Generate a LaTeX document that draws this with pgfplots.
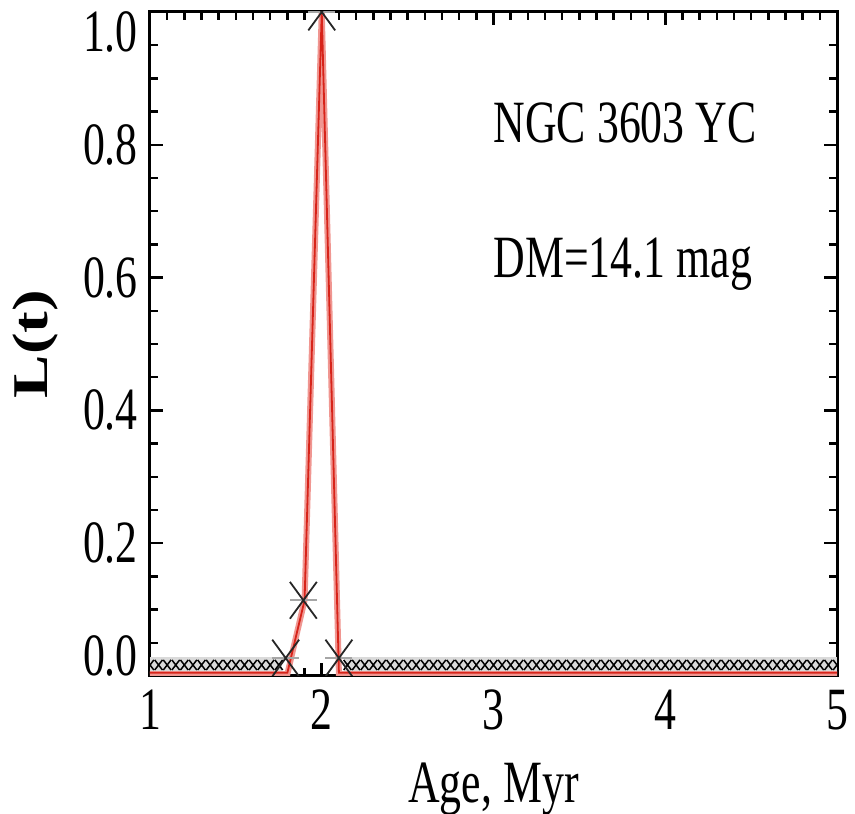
\documentclass[border=0pt]{standalone}
\usepackage{pgfplots}
\pgfplotsset{compat=1.18}
\usepackage{fontspec}
\setmainfont{Liberation Serif}[FakeStretch=0.73]
\newfontfamily\ylabfont{Liberation Serif}[FakeStretch=1.3]
\definecolor{darkred}{RGB}{215,35,25}
\definecolor{pinkred}{RGB}{240,150,145}
\definecolor{bandgray}{RGB}{218,218,218}
\newcommand\bigf{\fontsize{60pt}{60pt}\selectfont}
\begin{document}
\bigf
\begin{tikzpicture}
\begin{axis}[
  scale only axis, width=687pt, height=664pt,
  xmin=1, xmax=5, ymin=0, ymax=1,
  xtick={1,2,3,4,5}, xticklabels={1,2,3,4,5},
  ytick={0,0.2,0.4,0.6,0.8,1.0},
  yticklabels={\raisebox{21pt}[40pt][0pt]{0.0},0.2,0.4,0.6,0.8,\raisebox{-20pt}[40pt][0pt]{1.0}},
  minor x tick num=9, minor y tick num=3,
  tick align=inside, major tick length=13pt, minor tick length=8pt,
  every tick/.style={black, line width=2.5pt},
  axis line style={line width=3pt},
  tick label style={font=\bigf},
  xticklabel style={anchor=north, inner sep=0pt, yshift=-14pt},
  yticklabel style={anchor=east, inner sep=0pt, xshift=-12pt},
  xlabel={Age, Myr},
  ylabel={\ylabfont\bfseries L(t)},
  xlabel style={font=\bigf, at={(axis description cs:0.5,-0.19)}, anchor=base, inner sep=0pt},
  ylabel style={font=\fontsize{50pt}{50pt}\selectfont, at={(axis description cs:-0.166,0.5)}, anchor=center, rotate=0, inner sep=0pt},
  clip marker paths=true,
]
% grey band behind small markers
\addplot[fill=bandgray, draw=none] coordinates {(1,0.008)(1.77,0.008)(1.77,0.029)(1,0.029)} -- cycle;
\addplot[fill=bandgray, draw=none] coordinates {(2.13,0.008)(5,0.008)(5,0.029)(2.13,0.029)} -- cycle;
% small x markers
\addplot[only marks, mark=x, mark size=5.5pt, mark options={line width=1.5pt, yscale=1.3}, black] coordinates {
(1.00,0.0166)(1.05,0.0166)(1.10,0.0166)(1.15,0.0166)(1.20,0.0166)(1.25,0.0166)(1.30,0.0166)(1.35,0.0166)
(1.40,0.0166)(1.45,0.0166)(1.50,0.0166)(1.55,0.0166)(1.60,0.0166)(1.65,0.0166)(1.70,0.0166)(1.75,0.0166)
(2.15,0.0166)(2.20,0.0166)(2.25,0.0166)(2.30,0.0166)(2.35,0.0166)(2.40,0.0166)(2.45,0.0166)(2.50,0.0166)
(2.55,0.0166)(2.60,0.0166)(2.65,0.0166)(2.70,0.0166)(2.75,0.0166)(2.80,0.0166)(2.85,0.0166)(2.90,0.0166)
(2.95,0.0166)(3.00,0.0166)(3.05,0.0166)(3.10,0.0166)(3.15,0.0166)(3.20,0.0166)(3.25,0.0166)(3.30,0.0166)
(3.35,0.0166)(3.40,0.0166)(3.45,0.0166)(3.50,0.0166)(3.55,0.0166)(3.60,0.0166)(3.65,0.0166)(3.70,0.0166)
(3.75,0.0166)(3.80,0.0166)(3.85,0.0166)(3.90,0.0166)(3.95,0.0166)(4.00,0.0166)(4.05,0.0166)(4.10,0.0166)
(4.15,0.0166)(4.20,0.0166)(4.25,0.0166)(4.30,0.0166)(4.35,0.0166)(4.40,0.0166)(4.45,0.0166)(4.50,0.0166)
(4.55,0.0166)(4.60,0.0166)(4.65,0.0166)(4.70,0.0166)(4.75,0.0166)(4.80,0.0166)(4.85,0.0166)(4.90,0.0166)
(4.95,0.0166)(5.00,0.0166)};
% red curve
\addplot[pinkred, line width=6pt] coordinates {(1,0.003)(1.8,0.003)(1.9,0.114)(2.0,1.0)(2.1,0.003)(5,0.003)};
\addplot[darkred, line width=1.8pt] coordinates {(1,0.005)(1.8,0.005)(1.9,0.114)(2.0,1.0)(2.1,0.005)(5,0.005)};
% big star markers: cross plus horizontal bar
\addplot[only marks, mark=-, mark size=13.5pt, mark options={line width=2pt}, gray!70] coordinates {(1.79,0.027)(1.893,0.114)(2.0,1.0)(2.1,0.027)};
\addplot[only marks, mark=x, mark size=19pt, mark options={line width=1.8pt, yscale=1.37}, black!85] coordinates {(1.79,0.027)(1.893,0.114)(2.0,1.0)(2.1,0.027)};
\node[anchor=base west, inner sep=0pt, font=\bigf] at (axis cs:3.0,0.803) {NGC 3603 YC};
\node[anchor=base west, inner sep=0pt, font=\bigf] at (axis cs:3.0,0.600) {DM=14.1 mag};
\end{axis}
\pgfresetboundingbox
\path[use as bounding box] ([shift={(-150pt,-138pt)}]current axis.south west) rectangle ([shift={(18pt,12pt)}]current axis.north east);
\end{tikzpicture}
\end{document}
